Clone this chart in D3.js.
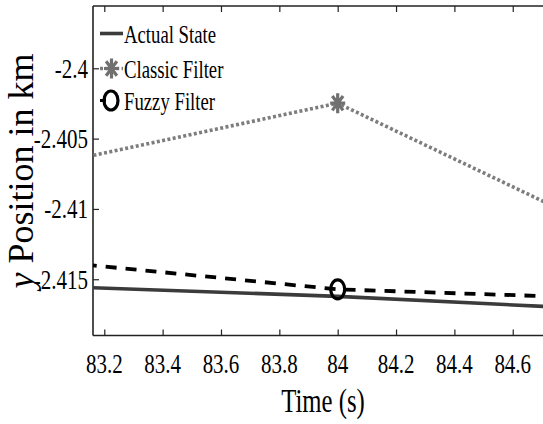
<!DOCTYPE html>
<html>
<head>
<meta charset="utf-8">
<script src="https://cdn.jsdelivr.net/npm/d3@7"></script>
<style>
  html, body { margin: 0; padding: 0; background: #fff; }
  svg { display: block; }
  text { font-family: "Liberation Serif", "Times New Roman", serif; fill: #000; }
</style>
</head>
<body>
<svg id="chart" width="543" height="424"></svg>
<script>
// Sample times (s) and y-position estimates (km)
const time = [83, 84, 85];
const actualState = [-2.41548, -2.41622, -2.41723];
const classicFilter = [-2.40691, -2.40248, -2.41239];
const fuzzyFilter = [-2.41369, -2.41572, -2.41640];

const xTicks = [83.2, 83.4, 83.6, 83.8, 84, 84.2, 84.4, 84.6];
const xTickLabels = ["83.2", "83.4", "83.6", "83.8", "84", "84.2", "84.4", "84.6"];
const yTicks = [-2.4, -2.405, -2.41, -2.415];
const yTickLabels = ["-2.4", "-2.405", "-2.41", "-2.415"];

const legendLabels = ["Actual State", "Classic Filter", "Fuzzy Filter"];

const svg = d3.select("#chart");
const plot = { left: 93, top: 6, right: 600, bottom: 335.5 };
const squeeze = 0.75; // horizontal condensing of the serif labels

const x = d3.scaleLinear().domain([83.1613, 84.8991]).range([plot.left, plot.right]);
const y = d3.scaleLinear().domain([-2.41900, -2.39557]).range([plot.bottom, plot.top]);

svg.append("defs").append("clipPath").attr("id", "plotClip")
  .append("rect")
  .attr("x", plot.left).attr("y", plot.top)
  .attr("width", plot.right - plot.left).attr("height", plot.bottom - plot.top);

// condensed horizontal text helper
function label(g, tx, ty, str, size, anchor) {
  return g.append("text")
    .attr("transform", `translate(${tx},${ty}) scale(${squeeze},1)`)
    .attr("text-anchor", anchor)
    .style("font-size", size + "px")
    .text(str);
}

// axes box
const axisColor = "#222";
svg.append("line").attr("x1", plot.left).attr("x2", plot.right)
  .attr("y1", plot.top).attr("y2", plot.top).attr("stroke", axisColor).attr("stroke-width", 1.6);
svg.append("line").attr("x1", plot.left).attr("x2", plot.right)
  .attr("y1", plot.bottom).attr("y2", plot.bottom).attr("stroke", axisColor).attr("stroke-width", 1.6);
svg.append("line").attr("x1", plot.left).attr("x2", plot.left)
  .attr("y1", plot.top).attr("y2", plot.bottom).attr("stroke", axisColor).attr("stroke-width", 1.6);

// bottom and top axes with inward ticks
const xAxis = d3.axisBottom(x).tickValues(xTicks).tickSize(-6).tickFormat("");
const gx = svg.append("g").attr("transform", `translate(0,${plot.bottom})`).call(xAxis);
gx.select(".domain").remove();
gx.selectAll(".tick line").attr("stroke", axisColor).attr("stroke-width", 1.2);
const xAxisTop = d3.axisTop(x).tickValues(xTicks).tickSize(-6).tickFormat("");
const gxt = svg.append("g").attr("transform", `translate(0,${plot.top})`).call(xAxisTop);
gxt.select(".domain").remove();
gxt.selectAll(".tick line").attr("stroke", axisColor).attr("stroke-width", 1.2);

xTicks.forEach((t, i) => label(svg, x(t), 373, xTickLabels[i], 28, "middle"));

// left axis with inward ticks
const yAxis = d3.axisLeft(y).tickValues(yTicks).tickSize(-6).tickFormat("");
const gy = svg.append("g").attr("transform", `translate(${plot.left},0)`).call(yAxis);
gy.select(".domain").remove();
gy.selectAll(".tick line").attr("stroke", axisColor).attr("stroke-width", 1.2);

yTicks.forEach((t, i) => label(svg, 88, y(t) + 9.5, yTickLabels[i], 28, "end"));

// axis titles
label(svg, 323, 412, "Time (s)", 33, "middle");
const yTitle = svg.append("text")
  .attr("transform", `translate(33,171) rotate(-90)`)
  .attr("text-anchor", "middle")
  .style("font-size", "36px");
yTitle.append("tspan").style("font-style", "italic").text("y");
yTitle.append("tspan").text(" Position in km");

// series lines
const data = time.map((t, i) => ({ t, a: actualState[i], c: classicFilter[i], f: fuzzyFilter[i] }));
const plotArea = svg.append("g").attr("clip-path", "url(#plotClip)");
const lineOf = key => d3.line().x(d => x(d.t)).y(d => y(d[key]));

const styles = {
  a: { stroke: "#3b3b3b", width: 3.6, dash: null },
  c: { stroke: "#7d7d7d", width: 3.6, dash: "3,2.4" },
  f: { stroke: "#000", width: 3.8, dash: "11,9" }
};

["a", "c", "f"].forEach(k => {
  plotArea.append("path").datum(data)
    .attr("d", lineOf(k))
    .attr("fill", "none")
    .attr("stroke", styles[k].stroke)
    .attr("stroke-width", styles[k].width)
    .attr("stroke-dasharray", styles[k].dash);
});

// markers
function starPath(rx, ry) {
  const dx = rx * 0.72, dy = ry * 0.72;
  return `M${-rx},0L${rx},0M0,${-ry}L0,${ry}M${-dx},${-dy}L${dx},${dy}M${-dx},${dy}L${dx},${-dy}`;
}
function drawStar(g, cx, cy) {
  g.append("path").attr("transform", `translate(${cx},${cy})`)
    .attr("d", starPath(7.5, 10)).attr("stroke", "#707070")
    .attr("stroke-width", 3.2).attr("fill", "none");
}
function drawCircle(g, cx, cy) {
  g.append("ellipse").attr("cx", cx).attr("cy", cy).attr("rx", 7).attr("ry", 9.5)
    .attr("fill", "none").attr("stroke", "#000").attr("stroke-width", 3.2);
}
data.forEach(d => {
  drawStar(plotArea, x(d.t), y(d.c));
  drawCircle(plotArea, x(d.t), y(d.f));
});

// legend
const lg = svg.append("g");
const rowY = [33.5, 68.5, 100.5];
lg.append("line").attr("x1", 100).attr("x2", 123).attr("y1", rowY[0]).attr("y2", rowY[0])
  .attr("stroke", styles.a.stroke).attr("stroke-width", styles.a.width);
lg.append("line").attr("x1", 100).attr("x2", 123).attr("y1", rowY[1]).attr("y2", rowY[1])
  .attr("stroke", styles.c.stroke).attr("stroke-width", styles.c.width).attr("stroke-dasharray", "3,2.4");
drawStar(lg, 111.5, rowY[1]);
lg.append("line").attr("x1", 100).attr("x2", 106).attr("y1", rowY[2]).attr("y2", rowY[2])
  .attr("stroke", "#000").attr("stroke-width", 3);
drawCircle(lg, 111, rowY[2]);
legendLabels.forEach((s, i) => label(lg, 124, rowY[i] + 9.5, s, 25, "start"));
</script>
</body>
</html>
